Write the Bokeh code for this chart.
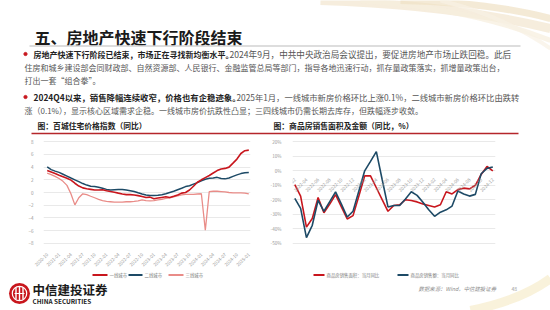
import math
import pandas as pd
from bokeh.plotting import figure
from bokeh.layouts import column, row
from bokeh.models import Range1d, FixedTicker, PrintfTickFormatter
from bokeh.core.properties import value
from bokeh.embed import file_html
from bokeh.resources import INLINE

FONT = "Noto Sans CJK SC"

# ---------------- data ----------------
price_months = list(pd.period_range("2020-10", "2025-01", freq="M").strftime("%Y-%m"))
tier1 = [3.46, 3.22, 2.98, 2.73, 2.49, 2.24, 1.95, 1.46, 1.02, 0.73, 0.59, 0.49, 0.39, 0.39,
         0.44, 0.29, 0.15, 0.05, -0.10, -0.24, -0.34, -0.34, -0.39, -0.49, -0.63, -0.78,
         -0.73, -0.98, -0.88, -0.78, -0.68, -0.78, -0.59, -0.39, -0.10, 0.00, 0.39, 0.98,
         1.61, 2.00, 2.34, 2.68, 3.07, 3.46, 3.71, 3.80, 4.00, 4.63, 5.27, 6.15, 6.59, 6.68]
tier2 = [4.05, 3.61, 3.37, 3.17, 2.88, 2.59, 2.29, 2.00, 1.71, 1.41, 1.17, 0.98, 0.93, 0.83,
         0.68, 0.49, 0.39, 0.44, 0.49, 0.49, 0.39, 0.29, 0.15, -0.05, -0.24, -0.39, -0.49,
         -0.49, -0.44, -0.34, -0.20, 0.00, 0.20, 0.44, 0.68, 0.93, 1.07, 1.32, 1.56, 1.85,
         2.10, 2.24, 2.29, 2.39, 2.20, 2.15, 2.29, 2.54, 2.78, 2.98, 3.12, 3.17]
tier3 = [3.07, 2.83, 2.54, 2.20, 1.76, 1.12, -0.20, -1.95, -0.83, -0.20, -0.34, -0.59, -0.83,
         -1.07, -1.27, -1.41, -1.46, -1.51, -1.51, -1.51, -1.46, -1.46, -1.41, -1.32, -1.17,
         -1.27, -1.32, -1.27, -1.17, -1.07, -0.93, -0.83, -0.68, -0.54, -0.39, -0.29, -0.29,
         -0.29, -0.24, -0.20, -5.95, 0.15, 0.20, 0.20, 0.15, 0.10, 0.00, -0.05, -0.05, -0.05,
         -0.10, -0.20]
price_ticks = [-8, -6, -4, -2, 0, 2, 4, 6, 8]

sales_months = list(pd.period_range("2022-02", "2024-12", freq="M").strftime("%Y-%m"))
sales_area = [-9.6, -17.5, -39.0, -33.0, -18.5, -29.0, -23.0, -16.5, -25.0, -33.3, -31.0,
              -17.5, -3.5, -3.5, -11.7, -20.0, -28.0, -24.0, -23.5, -20.0, -20.5, -21.5,
              -23.0, -24.0, -25.0, -23.5, -14.5, -16.0, -13.0, -12.0, -12.5, -10.0, -2.5,
              3.0, 0.0]
sales_amount = [-19.0, -26.0, -46.3, -37.7, -20.4, -28.0, -21.3, -14.6, -23.0, -32.0, -28.0,
                -14.0, 0.0, 6.5, 13.3, -6.0, -25.0, -24.0, -24.0, -19.5, -14.5, -17.0, -21.7,
                -27.0, -31.5, -28.6, -27.0, -24.4, -14.0, -16.0, -17.5, -16.3, -2.0, 1.7, 2.7]
sales_ticks = [-50, -40, -30, -20, -10, 0, 10, 20]

RED = "#c8161d"
BLUE = "#1d4a66"
PINK = "#e98c88"
GRID = "#e3e3e3"
LBL = "#9a9a9a"


def blank(w, h, y0, y1):
    p = figure(width=w, height=h, x_range=Range1d(0, w), y_range=Range1d(y1, y0),
               x_axis_type=None, y_axis_type=None, toolbar_location=None,
               output_backend="svg", min_border=0)
    p.outline_line_color = None
    p.xgrid.visible = False
    p.ygrid.visible = False
    p.background_fill_color = "white"
    p.border_fill_color = "white"
    return p


def txt(p, x, y, s, size, color="#444", style="normal", align="left"):
    p.text(x=[x], y=[y], text=[s], text_font=value(FONT), text_font_size=size,
           text_color=color, text_font_style=style, text_align=align,
           text_baseline="middle")


# ---------------- top (title + bullets) ----------------
top = blank(550, 136, 0, 136)
top.quadratic(x0=[320, 360, 400, 440], y0=[0, 0, 0, 0], x1=[550, 550, 550, 550],
              y1=[28, 40, 18, 48], cx=[450, 470, 490, 500], cy=[4, 8, 2, 14],
              line_color=["#f2e6cf", "#f6eedd", "#efe1c4", "#f8f1e4"],
              line_width=[9, 5, 7, 4], line_alpha=0.7)
txt(top, 34, 36, "五、房地产快速下行阶段结束", "16px", "#1a1a1a", "bold")
top.segment(x0=[29], y0=[45.5], x1=[520], y1=[45.5], line_color="#d2d2d2", line_width=1.6)

top.scatter(x=[25, 25], y=[53.5, 96.5], size=3.2, color=RED)
txt(top, 33, 53.5, "房地产快速下行阶段已结束，市场正在寻找新均衡水平。", "8px", "#222", "bold")
txt(top, 229, 53.5, "2024年9月，中共中央政治局会议提出，要促进房地产市场止跌回稳。此后", "8.6px", "#555")
txt(top, 24, 66.5, "住房和城乡建设部会同财政部、自然资源部、人民银行、金融监管总局等部门，指导各地迅速行动，抓存量政策落实，抓增量政策出台，", "8px", "#555")
txt(top, 24, 80, "打出一套“组合拳”。", "8px", "#555")
txt(top, 33, 96.5, "2024Q4以来，销售降幅连续收窄，价格也有企稳迹象。", "8.4px", "#222", "bold")
txt(top, 236, 96.5, "2025年1月，一线城市新房价格环比上涨0.1%，二线城市新房价格环比由跌转", "8.3px", "#555")
txt(top, 24, 110, "涨（0.1%），显示核心区域需求企稳。一线城市房价抗跌性凸显；三四线城市仍需长期去库存，但跌幅逐步收敛。", "8px", "#555")

txt(top, 37, 125, "图：百城住宅价格指数（同比）", "7.8px", "#222", "bold")
txt(top, 273, 125, "图：商品房销售面积及金额（同比，%）", "7.8px", "#222", "bold")
top.segment(x0=[31], y0=[133], x1=[518], y1=[133], line_color="#b5262b", line_width=1.4)


def style_chart(p):
    p.outline_line_color = None
    p.background_fill_color = "white"
    p.border_fill_color = "white"
    p.xgrid.visible = False
    p.ygrid.grid_line_color = GRID
    p.ygrid.grid_line_width = 0.8
    for ax in (p.xaxis, p.yaxis):
        ax.axis_line_color = None
        ax.major_tick_line_color = None
        ax.minor_tick_line_color = None
        ax.major_label_text_font = FONT
        ax.major_label_text_font_size = "4.6px"
        ax.major_label_text_color = LBL


# ---------------- left chart ----------------
CH = 135
left = figure(width=262, height=CH, x_range=Range1d(-0.936, 51.43), y_range=Range1d(-8.2, 8.2),
              toolbar_location=None, output_backend="svg",
              min_border_left=43, min_border_right=12, min_border_top=4, min_border_bottom=19)
style_chart(left)
idx1 = list(range(len(price_months)))
left.line(idx1, tier3, line_color=PINK, line_width=1.3)
left.line(idx1, tier2, line_color=BLUE, line_width=1.5)
left.line(idx1, tier1, line_color=RED, line_width=1.6)
left.yaxis.ticker = FixedTicker(ticks=price_ticks)
left.yaxis.major_label_standoff = 4
lt = list(range(0, len(price_months), 3))
left.xaxis.ticker = FixedTicker(ticks=lt)
left.xaxis.major_label_overrides = {i: price_months[i] for i in lt}
left.xaxis.major_label_orientation = math.pi / 4
left.xaxis.major_label_standoff = 3

# ---------------- right chart ----------------
right = figure(width=288, height=CH, x_range=Range1d(-0.395, 34.46), y_range=Range1d(-51, 21),
               toolbar_location=None, output_backend="svg",
               min_border_left=30, min_border_right=55, min_border_top=4, min_border_bottom=6)
style_chart(right)
idx2 = list(range(len(sales_months)))
right.line(idx2, sales_area, line_color=RED, line_width=1.6)
right.line(idx2, sales_amount, line_color=BLUE, line_width=1.6)
right.yaxis.ticker = FixedTicker(ticks=sales_ticks)
right.yaxis.formatter = PrintfTickFormatter(format="%d%%")
right.yaxis.major_label_standoff = 5
rt = list(range(0, len(sales_months), 2))
right.xaxis.ticker = FixedTicker(ticks=rt)
right.xaxis.major_label_overrides = {i: sales_months[i] for i in rt}
right.xaxis.major_label_orientation = math.pi / 4
right.xaxis.fixed_location = 0
right.xaxis.major_label_standoff = 2

# ---------------- bottom (legends, logo, source) ----------------
bot = blank(550, 310 - 136 - CH, 136 + CH, 310)
bot.quadratic(x0=[470], y0=[310], x1=[550], y1=[278], cx=[520], cy=[300],
              line_color="#f7eccc", line_width=9, line_alpha=0.7)
ly = 274.5
bot.segment(x0=[92, 128, 168, 313, 397], y0=[ly] * 5, x1=[107, 142, 183, 324, 408], y1=[ly] * 5,
            line_color=[RED, BLUE, PINK, RED, BLUE], line_width=1.8)
for x, s in [(109, "一线城市"), (144, "二线城市"), (185, "三线城市"),
             (326, "商品房销售面积：当月同比"), (410, "商品房销售额：当月同比")]:
    txt(bot, x, ly, s, "4.4px", "#7a7a7a")

# logo
bot.circle(x=[19], y=[293], radius=10.5, fill_color=RED, line_color=None)
bot.circle(x=[19], y=[293], radius=7.2, fill_color=None, line_color="white", line_width=1.2)
bot.segment(x0=[15.5, 19, 22.5], y0=[287, 286, 287], x1=[15.5, 19, 22.5], y1=[299, 300, 299],
            line_color="white", line_width=1.4)
bot.segment(x0=[14], y0=[293], x1=[24], y1=[293], line_color="white", line_width=1.2)
txt(bot, 32, 289, "中信建投证券", "12.5px", "#1a1a1a", "bold")
txt(bot, 32, 301, "CHINA SECURITIES", "6.4px", "#1a1a1a", "bold")
txt(bot, 418, 288, "数据来源：Wind，中信建投证券", "5.4px", "#8a8a8a", "italic")
txt(bot, 511, 288, "48", "5px", "#9a9a9a")

layout = column(top, row(left, right), bot)
open("out.html", "w").write(file_html(layout, INLINE))
